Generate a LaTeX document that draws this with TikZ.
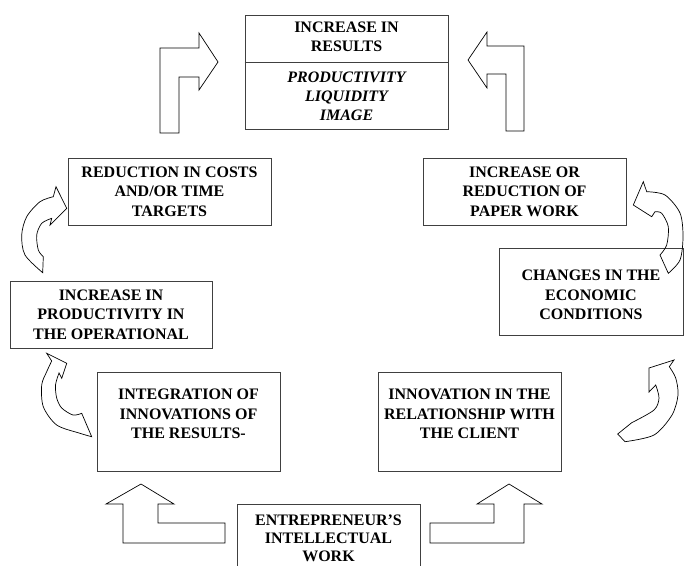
\documentclass[tikz,border=0pt]{standalone}
\usepackage{fontspec}
\setmainfont{Liberation Serif}
\begin{document}
\begin{tikzpicture}[x=1pt,y=-1pt,
  box/.style={draw=black!75, line width=0.9pt, rectangle, inner sep=0pt},
  txt/.style={align=center, inner sep=0pt, font=\bfseries\fontsize{16}{19.5}\selectfont},
  arr/.style={draw=black, line width=0.7pt, line join=miter}]
\useasboundingbox (0,0) rectangle (684,565);
\clip (0,0) rectangle (684,565);

% frames
\node[box, minimum width=203pt, minimum height=114pt] (res) at (346.5,72) {};
\node[box, minimum width=203pt, minimum height=67pt] (red) at (169.5,191.5) {};
\node[box, minimum width=203pt, minimum height=67pt] (paper) at (524.5,191.5) {};
\node[box, minimum width=202pt, minimum height=67pt] (prod) at (111,314.5) {};
\node[box, minimum width=184pt, minimum height=87pt] (econ) at (591,291.5) {};
\node[box, minimum width=183pt, minimum height=99pt] (integ) at (188.5,421.5) {};
\node[box, minimum width=183pt, minimum height=99pt] (client) at (469.5,421.5) {};
\node[box, minimum width=183pt, minimum height=81pt] (work) at (328.5,544.5) {};
\draw[draw=black!75, line width=0.9pt] (res.west |- 0,62) -- (res.east |- 0,62);

% texts
\node[txt] (resT) at (346.5,37) {INCREASE IN\\RESULTS};
\node[txt, font=\bfseries\itshape\fontsize{16}{19}\selectfont] (resI) at (346.5,96) {PRODUCTIVITY\\LIQUIDITY\\IMAGE};
\node[txt] (redT) at (red.center) {REDUCTION IN COSTS\\AND/OR TIME\\TARGETS};
\node[txt] (paperT) at (paper.center) {INCREASE OR\\REDUCTION OF\\PAPER WORK};
\node[txt] (prodT) at (prod.center) {INCREASE IN\\PRODUCTIVITY IN\\THE OPERATIONAL};
\node[txt] (econT) at (591,295) {CHANGES IN THE\\ECONOMIC\\CONDITIONS};
\node[txt] (integT) at (188.5,414) {INTEGRATION OF\\INNOVATIONS OF\\THE RESULTS-};
\node[txt] (clientT) at (469.5,414) {INNOVATION IN THE\\RELATIONSHIP WITH\\THE CLIENT};
\node[txt, font=\bfseries\fontsize{16}{18}\selectfont] (workT) at (328.5,538) {ENTREPRENEUR’S\\INTELLECTUAL\\WORK};

% bent block arrows
\draw[arr] (160,133) -- (160,48) -- (199,48) -- (199,33) -- (218,62) -- (199,90) -- (199,77) -- (179,77) -- (179,133) -- cycle;
\draw[arr] (524,131) -- (524,46) -- (487,46) -- (487,32) -- (468,60) -- (487,88) -- (487,74) -- (506,74) -- (506,131) -- cycle;
\draw[arr] (225,543) -- (123,543) -- (123,504) -- (106,504) -- (141,484) -- (174,504) -- (158,504) -- (158,523) -- (225,523) -- cycle;
\draw[arr] (430,523) -- (494,523) -- (494,504) -- (477,504) -- (509,484) -- (542,504) -- (524,504) -- (524,543) -- (430,543) -- cycle;

% curved block arrows
\draw[arr] (66.7,208.3) -- (56,186.7) -- (53.3,196.7)
  -- plot[smooth] coordinates {(53.3,196.7) (40,201.7) (26.7,216.7) (21.7,235) (25,255) (42.7,272.7)}
  -- (43.3,256.7)
  -- plot[smooth] coordinates {(43.3,256.7) (38.3,250) (36.7,235) (41.7,223.3) (51.7,218.3)}
  -- (50,225) -- cycle;
\draw[arr] (46.7,353.3) -- (66.7,363.3) -- (61.7,378.3) -- (59,373)
  -- plot[smooth] coordinates {(59,373) (55.5,385) (56.7,398) (61.7,408) (73,415) (81.7,413.3)}
  -- (91.7,436.7)
  -- plot[smooth] coordinates {(91.7,436.7) (80,433.3) (56.7,425) (43.3,406.7) (41.7,385) (46.7,371.7) (51.7,361)}
  -- cycle;
\draw[arr] (633.3,205) -- (643.3,181.7) -- (646.7,191.7)
  -- plot[smooth] coordinates {(646.7,191.7) (665,195) (680,213) (683,236.7) (680,260) (668.3,273.3)}
  -- (660,255)
  -- plot[smooth] coordinates {(660,255) (666.7,245) (668.3,226.7) (661.7,213.3) (655,211.7)}
  -- (651.7,216.7) -- cycle;
\draw[arr] (649,368) -- (674,360) -- (669.3,366.7)
  -- plot[smooth] coordinates {(669.3,366.7) (675.7,378) (678,395) (672,415) (654,435) (625,441.7)}
  -- (617.7,434) -- (631.7,422.7)
  -- plot[smooth] coordinates {(631.7,422.7) (654,410) (659,398) (655.7,385)}
  -- (649,392) -- cycle;
\end{tikzpicture}
\end{document}
